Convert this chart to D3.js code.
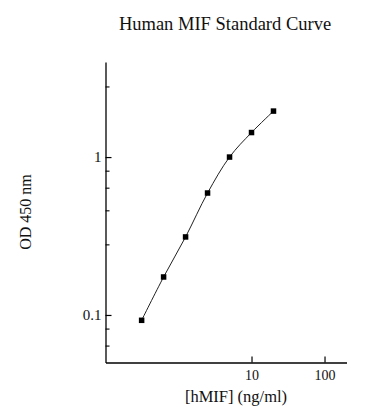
<!DOCTYPE html>
<html>
<head>
<meta charset="utf-8">
<script src="https://cdn.jsdelivr.net/npm/d3@7"></script>
<style>
  html, body { margin: 0; padding: 0; background: #fff; }
  text { font-family: "Liberation Serif", "Times New Roman", serif; fill: #111; }
</style>
</head>
<body>
<svg id="chart" width="388" height="420"></svg>
<script>
const concentrations = [0.3125, 0.625, 1.25, 2.5, 5, 10, 20];
const odValues = [0.0925, 0.174, 0.312, 0.592, 1.0, 1.43, 1.955];
const xTickValues = [10, 100];
const yTickValues = [0.1, 1];
const yMinorTicks = [0.064, 0.082, 0.28, 0.46, 0.64, 0.82, 2.8];

const svg = d3.select("#chart");
const plotLeft = 105.5, plotRight = 346.5, plotTop = 62, plotBottom = 362.5;

const x = d3.scaleLog().domain([0.1, 200]).range([plotLeft, plotRight]);
const y = d3.scaleLog().domain([0.05, 4]).range([plotBottom, plotTop]);

// Axes
const xAxis = d3.axisBottom(x).tickValues(xTickValues).tickFormat(d3.format("d")).tickSizeInner(-6).tickSizeOuter(0).tickPadding(8);
const gx = svg.append("g").attr("transform", `translate(0,${plotBottom})`).call(xAxis);
gx.select(".domain").attr("stroke", "#000").attr("stroke-width", 1.3);
gx.selectAll(".tick line").attr("stroke", "#000").attr("stroke-width", 1.2);
gx.selectAll(".tick text").style("font-size", "14px").attr("fill", "#222").attr("dy", "0.71em");

const yAxis = d3.axisLeft(y).tickValues(yTickValues).tickFormat(d => d === 1 ? "1" : "0.1").tickSizeInner(-6).tickSizeOuter(0).tickPadding(4);
const gy = svg.append("g").attr("transform", `translate(${plotLeft},0)`).call(yAxis);
gy.select(".domain").attr("stroke", "#000").attr("stroke-width", 1.3);
gy.selectAll(".tick line").attr("stroke", "#000").attr("stroke-width", 1.2);
gy.selectAll(".tick text").style("font-size", "15px").attr("fill", "#222");

// y minor ticks
const yMinor = d3.axisLeft(y).tickValues(yMinorTicks).tickFormat("").tickSizeInner(-4).tickSizeOuter(0);
const gym = svg.append("g").attr("transform", `translate(${plotLeft},0)`).call(yMinor);
gym.select(".domain").remove();
gym.selectAll(".tick line").attr("stroke", "#000").attr("stroke-width", 1.1);

// Curve
const pts = concentrations.map((c, i) => [c, odValues[i]]);
const line = d3.line().x(d => x(d[0])).y(d => y(d[1])).curve(d3.curveCatmullRom.alpha(0.5));
svg.append("path").datum(pts).attr("d", line).attr("fill", "none").attr("stroke", "#222").attr("stroke-width", 1);

// Markers
const s = 5.5;
svg.selectAll("rect.pt").data(pts).join("rect").attr("class", "pt")
  .attr("x", d => x(d[0]) - s / 2).attr("y", d => y(d[1]) - s / 2)
  .attr("width", s).attr("height", s).attr("fill", "#000");

// Title and labels
svg.append("text").attr("x", 225).attr("y", 30).attr("text-anchor", "middle")
  .style("font-size", "18.5px").text("Human MIF Standard Curve");
svg.append("text").attr("transform", "translate(31,212) rotate(-90)").attr("text-anchor", "middle")
  .style("font-size", "16px").attr("fill", "#333").text("OD 450 nm");
svg.append("text").attr("x", 236).attr("y", 402).attr("text-anchor", "middle")
  .style("font-size", "16.5px").attr("fill", "#222").text("[hMIF] (ng/ml)");
</script>
</body>
</html>
